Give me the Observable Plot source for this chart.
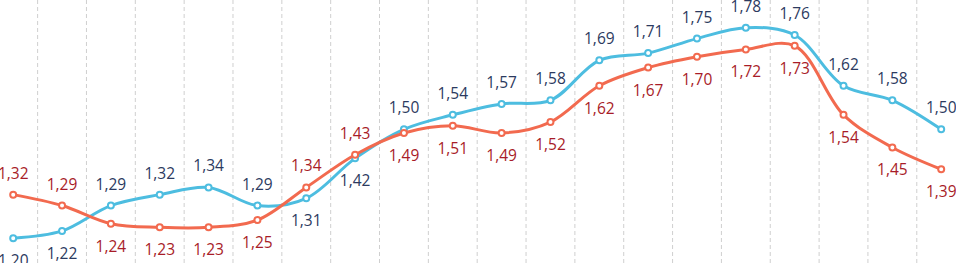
<!DOCTYPE html>
<html><head><meta charset="utf-8">
<script src="https://cdn.jsdelivr.net/npm/d3@7"></script>
<script src="https://cdn.jsdelivr.net/npm/@observablehq/plot@0.6"></script>
<style>html,body{margin:0;padding:0;background:#fff;overflow:hidden}</style>
</head><body><div id="chart"></div>
<script>
const seriesBlue = [1.20,1.22,1.29,1.32,1.34,1.29,1.31,1.42,1.50,1.54,1.57,1.58,1.69,1.71,1.75,1.78,1.76,1.62,1.58,1.50];
const seriesRed  = [1.32,1.29,1.24,1.23,1.23,1.25,1.34,1.43,1.49,1.51,1.49,1.52,1.62,1.67,1.70,1.72,1.73,1.54,1.45,1.39];
const periods = d3.range(seriesBlue.length);

const fmt = v => v.toFixed(2).replace(".", ",");
const blue = periods.map(i => ({i, v: seriesBlue[i], other: seriesRed[i]}));
const red = periods.map(i => ({i, v: seriesRed[i], other: seriesBlue[i]}));
const gridX = periods.slice(1).map(i => i - 0.5);

const BLUE = "#4dbde0", RED = "#f26a4f", BLUE_T = "#2c3a60", RED_T = "#a81c28";
const font = {fontFamily: "Open Sans", fontSize: 15.5};

function series(data, color, tcolor) {
  return [
    Plot.line(data, {x: "i", y: "v", stroke: color, strokeWidth: 3, curve: "catmull-rom"}),
    Plot.dot(data, {x: "i", y: "v", r: 3, stroke: color, strokeWidth: 2, fill: "white"}),
    Plot.text(data.filter(d => d.v >= d.other), {x: "i", y: "v", text: d => fmt(d.v), dy: -21, fill: tcolor, ...font}),
    Plot.text(data.filter(d => d.v < d.other), {x: "i", y: "v", text: d => fmt(d.v), dy: 23, fill: tcolor, ...font})
  ];
}

const chart = Plot.plot({
  width: 956, height: 263,
  marginTop: 0, marginBottom: 0, marginLeft: 0, marginRight: 0,
  style: {fontFamily: "Open Sans", background: "white", overflow: "visible"},
  x: {domain: [0, 19], range: [12.7, 940.7], axis: null},
  y: {domain: [1.20, 1.78], range: [237.7, 27.2], axis: null},
  marks: [
    Plot.ruleX(gridX, {x: d => d, stroke: "#cfcfcf", strokeWidth: 1, strokeDasharray: "4,3"}),
    ...series(blue, BLUE, BLUE_T),
    ...series(red, RED, RED_T)
  ]
});
document.getElementById("chart").appendChild(chart);
</script></body></html>
